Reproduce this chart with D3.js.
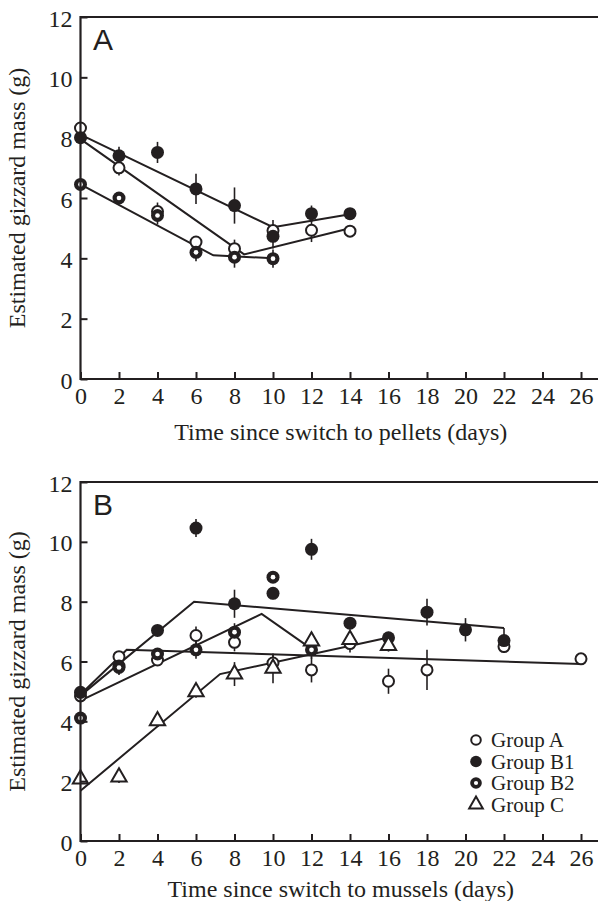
<!DOCTYPE html>
<html>
<head>
<meta charset="utf-8">
<script src="https://cdn.jsdelivr.net/npm/d3@7"></script>
<style>
  body { margin: 0; background: #fff; }
  svg text { font-family: 'Liberation Serif', 'Times New Roman', serif; fill: #231f20; }
</style>
</head>
<body>
<div id="chart"></div>
<script>
// ---- data ----
const xTickValues = [0, 2, 4, 6, 8, 10, 12, 14, 16, 18, 20, 22, 24, 26];
const yTickValues = [0, 2, 4, 6, 8, 10, 12];

// panel A: switch to pellets
const pelletDaysA = [0, 2, 4, 6, 8, 10, 12, 14];
const pelletMassA = [8.32, 7.0, 5.55, 4.54, 4.32, 4.92, 4.93, 4.9];
const pelletErrA = [0.1, 0.25, 0.3, 0.2, 0.3, 0.35, 0.39, 0.1];
const pelletDaysB1 = [0, 2, 4, 6, 8, 10, 12, 14];
const pelletMassB1 = [8.0, 7.4, 7.51, 6.3, 5.75, 4.73, 5.48, 5.48];
const pelletErrB1 = [0.1, 0.3, 0.35, 0.5, 0.6, 0.4, 0.27, 0.1];
const pelletDaysB2 = [0, 2, 4, 6, 8, 10];
const pelletMassB2 = [6.45, 6.0, 5.42, 4.2, 4.04, 3.99];
const pelletErrB2 = [0.1, 0.1, 0.3, 0.3, 0.35, 0.3];

const pelletFitA = [[0, 7.95], [8.5, 4.13], [14, 5.0]];
const pelletFitB1 = [[0, 8.1], [10, 5.03], [14, 5.46]];
const pelletFitB2 = [[0, 6.45], [6.9, 4.1], [10, 4.0]];

// panel B: switch to mussels
const musselDaysA = [0, 2, 4, 6, 8, 10, 12, 14, 16, 18, 22, 26];
const musselMassA = [4.85, 6.16, 6.05, 6.87, 6.64, 5.95, 5.72, 6.6, 5.34, 5.72, 6.5, 6.09];
const musselErrA = [0.1, 0.15, 0.2, 0.3, 0.3, 0.3, 0.42, 0.3, 0.42, 0.67, 0.2, 0.1];
const musselDaysB1 = [0, 2, 4, 6, 8, 10, 12, 14, 16, 18, 20, 22];
const musselMassB1 = [4.97, 5.85, 7.04, 10.46, 7.93, 8.28, 9.75, 7.28, 6.79, 7.65, 7.06, 6.7];
const musselErrB1 = [0.1, 0.25, 0.15, 0.3, 0.47, 0.2, 0.35, 0.2, 0.2, 0.45, 0.39, 0.42];
const musselDaysB2 = [0, 2, 4, 6, 8, 10, 12];
const musselMassB2 = [4.11, 5.8, 6.25, 6.39, 6.98, 8.82, 6.39];
const musselErrB2 = [0.1, 0.25, 0.2, 0.3, 0.3, 0.15, 0.3];
const musselDaysC = [0, 2, 4, 6, 8, 10, 12, 14, 16];
const musselMassC = [2.07, 2.14, 4.02, 4.99, 5.58, 5.77, 6.68, 6.73, 6.53];
const musselErrC = [0.1, 0.2, 0.2, 0.2, 0.4, 0.5, 0.3, 0.3, 0.2];

const musselFitA = [[0, 4.9], [2.4, 6.39], [26, 5.92]];
const musselFitB1 = [[0, 4.86], [5.9, 8.0], [22, 7.12]];
const musselFitB2 = [[0, 4.69], [9.41, 7.59], [12, 6.42]];
const musselFitC = [[0, 1.68], [7.25, 5.58], [16, 6.8]];

const legendLabels = ['Group A', 'Group B1', 'Group B2', 'Group C'];
const legendKinds = ['open', 'filled', 'ring', 'triangle'];

const INK = '#231f20';
const width = 598;
const height = 901;

function toPoints(days, mass, err) {
  return days.map((d, i) => ({ day: d, value: mass[i], err: err[i] }));
}

const panels = [
  {
    label: 'A', top: 17, bottom: 379, titleY: 440,
    title: 'Time since switch to pellets (days)',
    fits: [pelletFitA, pelletFitB1, pelletFitB2],
    series: [
      { kind: 'open', points: toPoints(pelletDaysA, pelletMassA, pelletErrA) },
      { kind: 'filled', points: toPoints(pelletDaysB1, pelletMassB1, pelletErrB1) },
      { kind: 'ring', points: toPoints(pelletDaysB2, pelletMassB2, pelletErrB2) }
    ],
    legend: false
  },
  {
    label: 'B', top: 482, bottom: 841, titleY: 897,
    title: 'Time since switch to mussels (days)',
    fits: [musselFitA, musselFitB1, musselFitB2, musselFitC],
    series: [
      { kind: 'open', points: toPoints(musselDaysA, musselMassA, musselErrA) },
      { kind: 'filled', points: toPoints(musselDaysB1, musselMassB1, musselErrB1) },
      { kind: 'ring', points: toPoints(musselDaysB2, musselMassB2, musselErrB2) },
      { kind: 'triangle', points: toPoints(musselDaysC, musselMassC, musselErrC) }
    ],
    legend: true
  }
];

const svg = d3.select('#chart')
  .append('svg')
  .attr('width', width)
  .attr('height', height);

// one marker per kind, drawn centred at (0,0)
function drawMarker(sel, kind, r) {
  if (kind === 'open') {
    sel.append('circle').attr('r', r - 1).attr('fill', '#fff').attr('stroke', INK).attr('stroke-width', 2);
  } else if (kind === 'filled') {
    sel.append('circle').attr('r', r).attr('fill', INK);
  } else if (kind === 'ring') {
    sel.append('circle').attr('r', r).attr('fill', INK);
    sel.append('circle').attr('r', r * 0.36).attr('fill', '#fff');
  } else {
    sel.append('path')
      .attr('d', d3.symbol(d3.symbolTriangle, r * r * 2.4)())
      .attr('fill', '#fff').attr('stroke', INK).attr('stroke-width', 2)
      .attr('stroke-linejoin', 'miter');
  }
}

function drawPanel(panel) {
  const x = d3.scaleLinear().domain([0, 26]).range([80.5, 581]);
  const y = d3.scaleLinear().domain([0, 12]).range([panel.bottom, panel.top]);
  const g = svg.append('g');

  // broken-stick fits
  const line = d3.line().x(d => x(d[0])).y(d => y(d[1]));
  g.selectAll('.fit')
    .data(panel.fits)
    .enter()
    .append('path')
    .attr('class', 'fit')
    .attr('d', line)
    .attr('fill', 'none')
    .attr('stroke', INK)
    .attr('stroke-width', 2);

  // error bars first, then markers on top
  panel.series.forEach(s => {
    g.selectAll(null)
      .data(s.points)
      .enter()
      .append('line')
      .attr('x1', d => x(d.day))
      .attr('x2', d => x(d.day))
      .attr('y1', d => y(d.value - d.err))
      .attr('y2', d => y(d.value + d.err))
      .attr('stroke', INK)
      .attr('stroke-width', 1.6);
  });

  panel.series.forEach(s => {
    g.selectAll(null)
      .data(s.points)
      .enter()
      .append('g')
      .attr('transform', d => `translate(${x(d.day)},${y(d.value)})`)
      .each(function () { drawMarker(d3.select(this), s.kind, 6.5); });
  });

  // axes, ticks pointing inward
  const xAxis = d3.axisBottom(x).tickValues(xTickValues).tickSizeInner(-7).tickSizeOuter(0).tickPadding(8);
  const yAxis = d3.axisLeft(y).tickValues(yTickValues).tickSizeInner(-7).tickSizeOuter(0).tickPadding(8);

  const gx = g.append('g').attr('transform', `translate(0,${panel.bottom})`).call(xAxis);
  const gy = g.append('g').attr('transform', `translate(${x(0)},0)`).call(yAxis);
  [gx, gy].forEach(a => {
    a.select('.domain').remove();
    a.selectAll('.tick line').attr('stroke', INK).attr('stroke-width', 2);
    a.selectAll('.tick text')
      .style('font-family', "'Liberation Serif', serif")
      .style('font-size', '24px')
      .attr('fill', INK);
  });
  gy.selectAll('.tick text').attr('dy', '0.38em');

  // frame: left spine, bottom axis and top rule run to the page edge
  g.append('line').attr('x1', x(0)).attr('x2', width).attr('y1', panel.bottom).attr('y2', panel.bottom)
    .attr('stroke', INK).attr('stroke-width', 2.2);
  g.append('line').attr('x1', x(0)).attr('x2', width).attr('y1', panel.top).attr('y2', panel.top)
    .attr('stroke', INK).attr('stroke-width', 2.2);
  g.append('line').attr('x1', x(0)).attr('x2', x(0)).attr('y1', panel.top - 1).attr('y2', panel.bottom + 1)
    .attr('stroke', INK).attr('stroke-width', 2.2);

  // panel letter
  g.append('text')
    .attr('x', 93)
    .attr('y', panel.top + 33)
    .style('font-family', "'Liberation Sans', Arial, sans-serif")
    .style('font-size', '30px')
    .text(panel.label);

  // axis titles
  g.append('text')
    .attr('x', (80.5 + 581) / 2 + 10)
    .attr('y', panel.titleY)
    .attr('text-anchor', 'middle')
    .style('font-size', '24px')
    .text(panel.title);

  g.append('text')
    .attr('transform', `translate(25,${(panel.top + panel.bottom) / 2}) rotate(-90)`)
    .attr('text-anchor', 'middle')
    .style('font-size', '24px')
    .text('Estimated gizzard mass (g)');

  if (panel.legend) {
    const legend = g.selectAll('.legend-item')
      .data(legendLabels)
      .enter()
      .append('g')
      .attr('class', 'legend-item')
      .attr('transform', (d, i) => `translate(476,${740 + i * 21.5})`);
    legend.each(function (d, i) { drawMarker(d3.select(this), legendKinds[i], 5.8); });
    legend.append('text')
      .attr('x', 15)
      .attr('dy', '0.35em')
      .style('font-size', '21px')
      .text(d => d);
  }
}

panels.forEach(drawPanel);
</script>
</body>
</html>
